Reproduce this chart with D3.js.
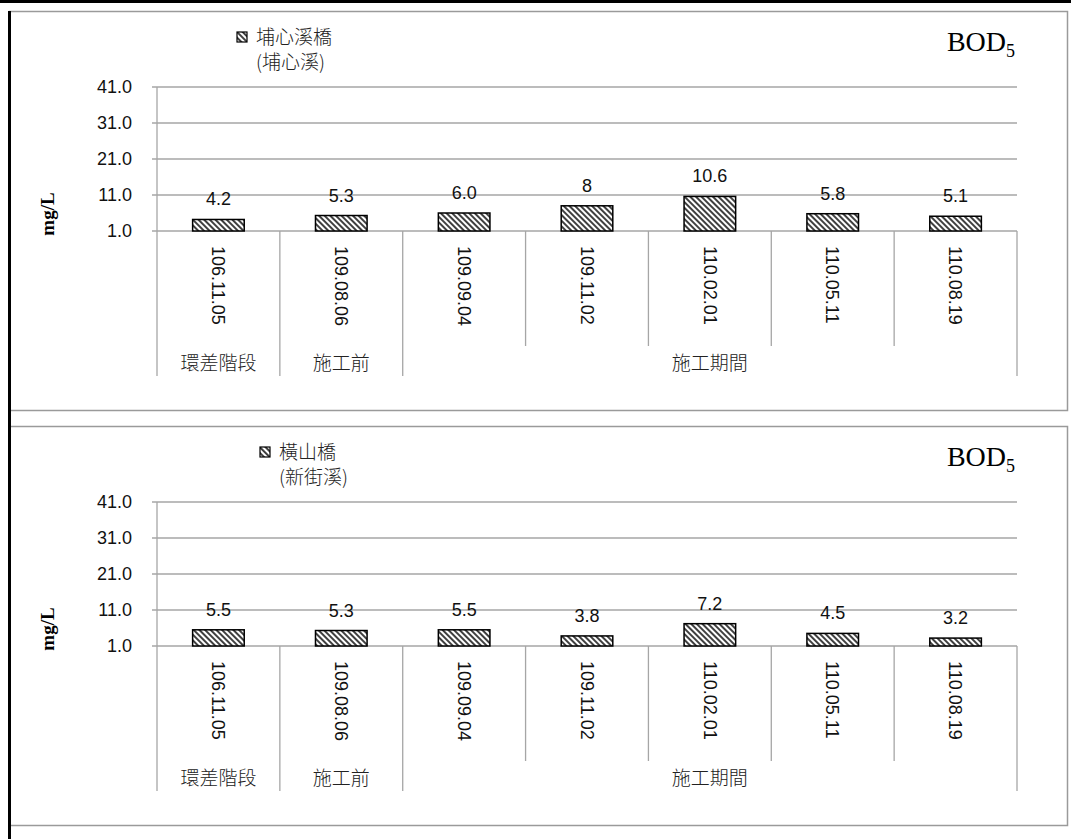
<!DOCTYPE html>
<html lang="zh-Hant">
<head>
<meta charset="UTF-8">
<title>BOD5</title>
<style type="text/css">
body { margin: 0; background: #fff; }
.num { font-family: "Liberation Sans", Arial, sans-serif; font-size: 18px; fill: #111; }
.cjk { font-family: "Noto Sans CJK TC", "Noto Sans CJK SC", sans-serif; font-size: 19px; fill: #222; font-weight: 300; }
.grid line { stroke: #a6a6a6; stroke-width: 1.3; }
</style>
</head>
<body>
<script src="https://cdn.jsdelivr.net/npm/d3@7/dist/d3.min.js"></script>
<script>
// sampling dates (ROC calendar)
var dates = ["106.11.05", "109.08.06", "109.09.04", "109.11.02", "110.02.01", "110.05.11", "110.08.19"]
var phaseNames = ["環差階段", "施工前", "施工期間"]
var phaseSpan = [1, 1, 5]
var yTicks = [1, 11, 21, 31, 41]

var stations = ["埔心溪橋", "橫山橋"]
var rivers = ["(埔心溪)", "(新街溪)"]

var bodPuxin = [4.2, 5.3, 6.0, 8, 10.6, 5.8, 5.1]
var bodPuxinLabels = ["4.2", "5.3", "6.0", "8", "10.6", "5.8", "5.1"]
var bodHengshan = [5.5, 5.3, 5.5, 3.8, 7.2, 4.5, 3.2]
var bodHengshanLabels = ["5.5", "5.3", "5.5", "3.8", "7.2", "4.5", "3.2"]

var W = 1071, H = 839

var svg = d3.select("body").append("svg")
    .attr("width", W)
    .attr("height", H)

var defs = svg.append("defs")
var pat = defs.append("pattern")
    .attr("id", "hatch")
    .attr("patternUnits", "userSpaceOnUse")
    .attr("width", 4)
    .attr("height", 4)
    .attr("patternTransform", "rotate(-45)")
pat.append("rect").attr("width", 4).attr("height", 4).attr("fill", "#fff")
pat.append("line")
    .attr("x1", 1).attr("y1", 0).attr("x2", 1).attr("y2", 4)
    .attr("stroke", "#000").attr("stroke-width", 1.5)

// page frame
svg.append("rect").attr("x", 0).attr("y", 0).attr("width", W).attr("height", 3).attr("fill", "#000")

var x = d3.scaleBand()
    .domain(dates)
    .range([157, 1017])

var y = d3.scaleLinear()
    .domain([1, 41])
    .range([231, 87])

function drawChart(top, values, labels, station, river, legendX) {
  var g = svg.append("g").attr("transform", "translate(0," + top + ")")

  // chart box
  g.append("rect")
      .attr("x", 9.5).attr("y", 11.5)
      .attr("width", 1058).attr("height", 399)
      .attr("fill", "none")
      .attr("stroke", "#9a9a9a")
      .attr("stroke-width", 1.5)

  // gridlines + y labels
  var grid = g.append("g").attr("class", "grid")
  grid.selectAll("line")
      .data(yTicks)
      .enter().append("line")
      .attr("x1", 152).attr("x2", 1017)
      .attr("y1", function (d) { return y(d) })
      .attr("y2", function (d) { return y(d) })

  g.selectAll(".ylab")
      .data(yTicks)
      .enter().append("text")
      .attr("class", "num ylab")
      .attr("x", 132)
      .attr("y", function (d) { return y(d) })
      .attr("dy", "0.35em")
      .attr("text-anchor", "end")
      .text(function (d) { return d3.format(".1f")(d) })

  // y axis + category dividers
  var bounds = d3.range(dates.length + 1)
  var phaseEdges = [0]
  phaseSpan.forEach(function (s, i) { phaseEdges.push(phaseEdges[i] + s) })
  g.append("g").attr("class", "grid")
    .selectAll("line")
    .data(bounds)
    .enter().append("line")
      .attr("x1", function (i) { return 157 + i * x.step() })
      .attr("x2", function (i) { return 157 + i * x.step() })
      .attr("y1", function (i) { return i === 0 ? y(41) : y(1) })
      .attr("y2", function (i) { return phaseEdges.indexOf(i) >= 0 ? 376 : 346 })

  // bars
  var bw = x.bandwidth() * 0.42
  g.selectAll(".bar")
      .data(values)
      .enter().append("rect")
      .attr("class", "bar")
      .attr("x", function (d, i) { return x(dates[i]) + (x.bandwidth() - bw) / 2 })
      .attr("width", bw)
      .attr("y", function (d) { return y(d) })
      .attr("height", function (d) { return y(1) - y(d) })
      .attr("fill", "url(#hatch)")
      .attr("stroke", "#000")
      .attr("stroke-width", 1.5)

  g.selectAll(".vlab")
      .data(values)
      .enter().append("text")
      .attr("class", "num vlab")
      .attr("x", function (d, i) { return x(dates[i]) + x.bandwidth() / 2 })
      .attr("y", function (d) { return y(d) - 14 })
      .attr("text-anchor", "middle")
      .text(function (d, i) { return labels[i] })

  // rotated dates
  g.selectAll(".xlab")
      .data(dates)
      .enter().append("text")
      .attr("class", "num xlab")
      .attr("transform", function (d) {
        return "translate(" + (x(d) + x.bandwidth() / 2) + ",246) rotate(90)"
      })
      .attr("dy", "0.35em")
      .text(function (d) { return d })

  // phase names
  g.selectAll(".phase")
      .data(phaseNames)
      .enter().append("text")
      .attr("class", "cjk phase")
      .attr("x", function (d, i) {
        return 157 + (phaseEdges[i] + phaseEdges[i + 1]) / 2 * x.step()
      })
      .attr("y", 370)
      .attr("text-anchor", "middle")
      .text(function (d) { return d })

  // y title
  g.append("text")
      .attr("transform", "translate(47,214) rotate(-90)")
      .attr("text-anchor", "middle")
      .attr("dy", "0.35em")
      .style("font-family", "'Liberation Serif', 'Times New Roman', serif")
      .style("font-weight", "bold")
      .style("font-size", "19px")
      .text("mg/L")

  // legend
  g.append("rect")
      .attr("x", legendX).attr("y", 32)
      .attr("width", 10).attr("height", 10)
      .attr("fill", "url(#hatch)")
      .attr("stroke", "#000").attr("stroke-width", 1.2)
  g.append("text").attr("class", "cjk")
      .attr("x", legendX + 19).attr("y", 44)
      .text(station)
  g.append("text").attr("class", "cjk")
      .attr("x", legendX + 19).attr("y", 69)
      .text(river)

  // title
  var t = g.append("text")
      .attr("x", 1015).attr("y", 51)
      .attr("text-anchor", "end")
      .style("font-family", "'Liberation Serif', 'Times New Roman', serif")
      .style("font-size", "28px")
      .style("fill", "#000")
  t.append("tspan").text("BOD")
  t.append("tspan").attr("dy", 6).style("font-size", "18px").text("5")
}

drawChart(0, bodPuxin, bodPuxinLabels, stations[0], rivers[0], 237)
drawChart(415, bodHengshan, bodHengshanLabels, stations[1], rivers[1], 260)

// thick left rule
svg.append("rect").attr("x", 8).attr("y", 11).attr("width", 3).attr("height", H - 11).attr("fill", "#000")
</script>
</body>
</html>
